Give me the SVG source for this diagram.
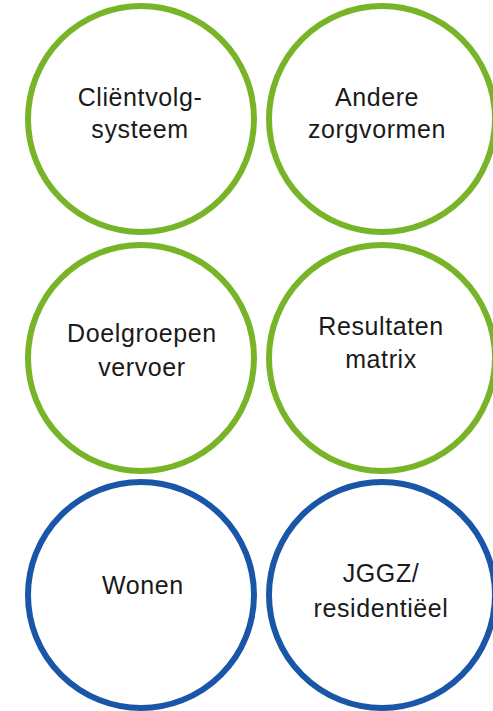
<svg xmlns="http://www.w3.org/2000/svg" width="493" height="711" viewBox="0 0 493 711">
<style>
.g{fill:none;stroke:#78b428;stroke-width:6}
.b{fill:none;stroke:#1a56a8;stroke-width:6}
text{font-family:"Liberation Sans",Arial,sans-serif;font-size:25px;letter-spacing:0.6px;fill:#1a1a1a;text-anchor:middle}
</style>
<rect width="493" height="711" fill="#ffffff"/>
<g id="connectors"/>
<g id="n1"><circle class="g" cx="141" cy="119" r="113"/><text x="140" y="106">Cliëntvolg-</text><text x="140" y="138">systeem</text></g>
<g id="n2"><circle class="g" cx="382" cy="119" r="113"/><text x="377" y="106">Andere</text><text x="377" y="138">zorgvormen</text></g>
<g id="n3"><circle class="g" cx="141" cy="358" r="113"/><text x="142" y="342">Doelgroepen</text><text x="142" y="376">vervoer</text></g>
<g id="n4"><circle class="g" cx="382" cy="358" r="113"/><text x="381" y="335">Resultaten</text><text x="381" y="368">matrix</text></g>
<g id="n5"><circle class="b" cx="141" cy="595" r="113"/><text x="143" y="594">Wonen</text></g>
<g id="n6"><circle class="b" cx="382" cy="595" r="113"/><text x="381" y="582">JGGZ/</text><text x="381" y="617">residentiëel</text></g>
</svg>
